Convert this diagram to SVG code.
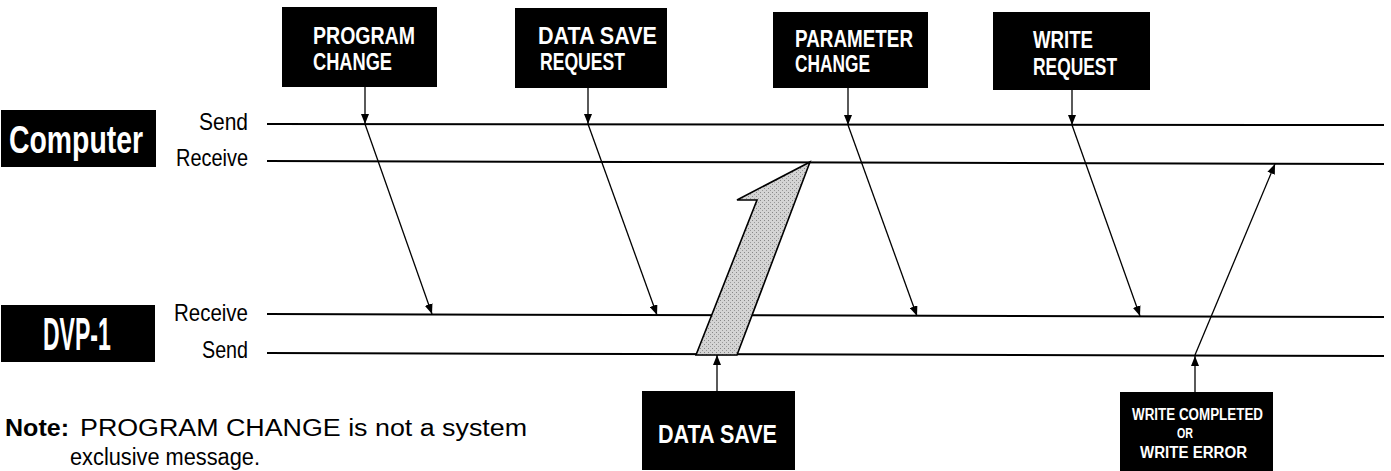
<svg xmlns="http://www.w3.org/2000/svg" width="1391" height="471" viewBox="0 0 1391 471">
<defs>
<marker id="ah" markerUnits="userSpaceOnUse" markerWidth="10" markerHeight="8" refX="10" refY="4" orient="auto">
<path d="M0,0 L10,4 L0,8 Z" fill="#000"/>
</marker>
<pattern id="stip" width="4" height="4" patternUnits="userSpaceOnUse">
<rect width="4" height="4" fill="#d4d4d4"/>
<rect x="0" y="0" width="1" height="1" fill="#888"/>
<rect x="2" y="2" width="1" height="1" fill="#999"/>
</pattern>
</defs>
<style>
.box{fill:#000}
.bl{font-family:"Liberation Sans",Arial,sans-serif;font-weight:bold;fill:#fff}
.lbl{font-family:"Liberation Sans",Arial,sans-serif;font-size:24px;fill:#000}
.bus{stroke:#000;stroke-width:2;fill:none}
.msg{stroke:#000;stroke-width:1.3;fill:none}
.note{font-family:"Liberation Sans",Arial,sans-serif;font-size:23px;fill:#000}
</style>
<rect width="1391" height="471" fill="#fff"/>

<g id="computer">
<rect class="box" x="1" y="110" width="155" height="57"/>
<text class="bl" transform="translate(9,153) scale(0.728,1)" x="0" y="0" font-size="39">Computer</text>
<text class="lbl" x="248" y="130" text-anchor="end" textLength="49" lengthAdjust="spacingAndGlyphs">Send</text>
<text class="lbl" x="248" y="166" text-anchor="end" textLength="72" lengthAdjust="spacingAndGlyphs">Receive</text>
</g>

<g id="dvp1">
<rect class="box" x="1" y="305" width="154" height="57"/>
<text class="bl" transform="translate(43,350) scale(0.5,1)" x="0" y="0" font-size="46">DVP-1</text>
<text class="lbl" x="248" y="321" text-anchor="end" textLength="74" lengthAdjust="spacingAndGlyphs">Receive</text>
<text class="lbl" x="248" y="358" text-anchor="end" textLength="46" lengthAdjust="spacingAndGlyphs">Send</text>
</g>

<g id="program-change">
<rect class="box" x="282" y="7" width="155" height="80"/>
<text class="bl" x="313" y="44" font-size="23" textLength="102" lengthAdjust="spacingAndGlyphs">PROGRAM</text>
<text class="bl" x="313" y="70" font-size="23" textLength="79" lengthAdjust="spacingAndGlyphs">CHANGE</text>
</g>

<g id="data-save-request">
<rect class="box" x="515" y="8" width="152" height="80"/>
<text class="bl" x="538" y="44" font-size="23" textLength="119" lengthAdjust="spacingAndGlyphs">DATA SAVE</text>
<text class="bl" x="540" y="70" font-size="23" textLength="85" lengthAdjust="spacingAndGlyphs">REQUEST</text>
</g>

<g id="parameter-change">
<rect class="box" x="773" y="12" width="155" height="76"/>
<text class="bl" x="795" y="47" font-size="23" textLength="118" lengthAdjust="spacingAndGlyphs">PARAMETER</text>
<text class="bl" x="795" y="72" font-size="23" textLength="75" lengthAdjust="spacingAndGlyphs">CHANGE</text>
</g>

<g id="write-request">
<rect class="box" x="993" y="12" width="157" height="78"/>
<text class="bl" x="1033" y="48" font-size="23" textLength="60" lengthAdjust="spacingAndGlyphs">WRITE</text>
<text class="bl" x="1033" y="75" font-size="23" textLength="84" lengthAdjust="spacingAndGlyphs">REQUEST</text>
</g>

<g id="data-save">
<rect class="box" x="642" y="391" width="153" height="79"/>
<text class="bl" x="658" y="443" font-size="25" textLength="119" lengthAdjust="spacingAndGlyphs">DATA SAVE</text>
</g>

<g id="write-completed">
<rect class="box" x="1120" y="392" width="153" height="79"/>
<text class="bl" x="1132" y="420" font-size="16" textLength="131" lengthAdjust="spacingAndGlyphs">WRITE COMPLETED</text>
<text class="bl" x="1177" y="438" font-size="15" textLength="16" lengthAdjust="spacingAndGlyphs">OR</text>
<text class="bl" x="1140" y="458" font-size="16" textLength="107" lengthAdjust="spacingAndGlyphs">WRITE ERROR</text>
</g>

<g id="note">
<text class="note" x="5" y="436" font-weight="bold" textLength="64" lengthAdjust="spacingAndGlyphs">Note:</text>
<text class="note" x="80" y="436" textLength="447" lengthAdjust="spacingAndGlyphs">PROGRAM CHANGE is not a system</text>
<text class="note" x="70" y="465" textLength="190" lengthAdjust="spacingAndGlyphs">exclusive message.</text>
</g>

<g id="connectors">
<line class="bus" x1="267" y1="124" x2="1384" y2="125"/>
<line class="bus" x1="267" y1="161" x2="1384" y2="164"/>
<line class="bus" x1="267" y1="314" x2="1384" y2="317"/>
<line class="bus" x1="267" y1="353" x2="1384" y2="356"/>

<line class="msg" x1="365" y1="87" x2="365" y2="124" marker-end="url(#ah)"/>
<line class="msg" x1="588" y1="88" x2="588" y2="124" marker-end="url(#ah)"/>
<line class="msg" x1="848" y1="88" x2="848" y2="125" marker-end="url(#ah)"/>
<line class="msg" x1="1072" y1="90" x2="1072" y2="125" marker-end="url(#ah)"/>

<line class="msg" x1="365" y1="124" x2="432" y2="314" marker-end="url(#ah)"/>
<line class="msg" x1="588" y1="124" x2="657" y2="315" marker-end="url(#ah)"/>
<line class="msg" x1="848" y1="125" x2="917" y2="316" marker-end="url(#ah)"/>
<line class="msg" x1="1072" y1="125" x2="1140" y2="316" marker-end="url(#ah)"/>
<line class="msg" x1="1195" y1="355" x2="1275" y2="164" marker-end="url(#ah)"/>

<line class="msg" x1="717" y1="391" x2="717" y2="355" marker-end="url(#ah)"/>
<line class="msg" x1="1195" y1="392" x2="1195" y2="356" marker-end="url(#ah)"/>

<polygon points="696,355 737,355 810,162 737,200 757,200" fill="url(#stip)" stroke="#000" stroke-width="1.6" stroke-linejoin="miter"/>
</g>
</svg>
